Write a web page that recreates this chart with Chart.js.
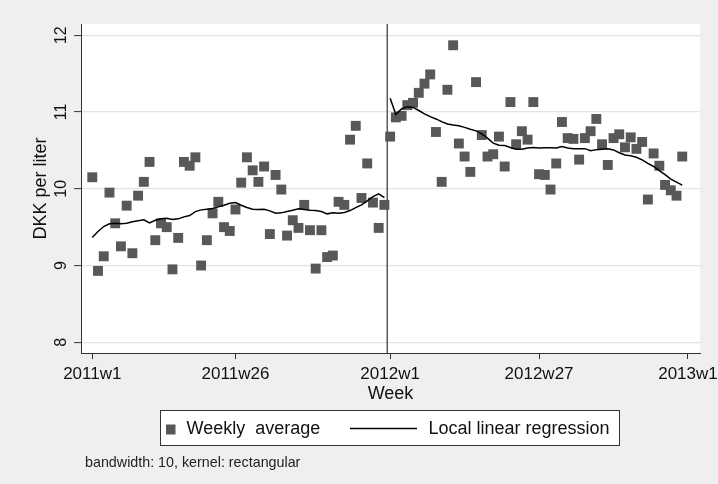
<!DOCTYPE html>
<html><head><meta charset="utf-8">
<script src="https://cdn.jsdelivr.net/npm/chart.js@4.4.0/dist/chart.umd.min.js"></script>
<style>html,body{margin:0;padding:0;background:#efefef;}canvas{display:block}</style>
</head><body>
<canvas id="c" width="718" height="484"></canvas>
<script>
// Week index: 0 = 2011w1 ... 103 = 2012w52
const weekIndex = Array.from({length: 104}, (_, i) => i);
const weeklyAverage = [
  10.15, 8.93, 9.12, 9.95, 9.55, 9.25, 9.78, 9.16, 9.91, 10.09,
  10.35, 9.33, 9.55, 9.50, 8.95, 9.36, 10.35, 10.30, 10.41, 9.00,
  9.33, 9.68, 9.83, 9.50, 9.45, 9.73, 10.08, 10.41, 10.24, 10.09,
  10.29, 9.41, 10.18, 9.99, 9.39, 9.59, 9.49, 9.79, 9.46, 8.96,
  9.46, 9.11, 9.13, 9.83, 9.79, 10.64, 10.82, 9.88, 10.33, 9.82,
  9.49, 9.79,
  10.68, 10.93, 10.95, 11.09, 11.12, 11.25, 11.37, 11.49, 10.74, 10.09,
  11.29, 11.87, 10.59, 10.42, 10.22, 11.39, 10.70, 10.42, 10.45, 10.68,
  10.29, 11.13, 10.58, 10.75, 10.64, 11.13, 10.19, 10.18, 9.99, 10.33,
  10.87, 10.66, 10.65, 10.38, 10.66, 10.75, 10.91, 10.58, 10.31, 10.66,
  10.71, 10.54, 10.67, 10.52, 10.61, 9.86, 10.46, 10.30, 10.05, 9.98,
  9.91, 10.42
];
const fit2011 = [
  9.365, 9.443, 9.508, 9.543, 9.552, 9.543, 9.552, 9.569, 9.582, 9.595,
  9.556, 9.59, 9.61, 9.617, 9.60, 9.608, 9.634, 9.651, 9.703, 9.725,
  9.734, 9.742, 9.764, 9.786, 9.812, 9.82, 9.785, 9.755, 9.734, 9.73,
  9.734, 9.712, 9.682, 9.686, 9.703, 9.72, 9.738, 9.73, 9.72, 9.716,
  9.703, 9.673, 9.686, 9.682, 9.69, 9.716, 9.755, 9.79, 9.842, 9.898,
  9.934, 9.885
];
const fit2012 = [
  11.18, 10.97, 11.04, 11.07, 11.06, 11.02, 10.975, 10.94, 10.91, 10.875,
  10.845, 10.83, 10.82, 10.80, 10.776, 10.754, 10.715, 10.66, 10.594, 10.568,
  10.563, 10.537, 10.516, 10.516, 10.53, 10.537, 10.53, 10.533, 10.533, 10.53,
  10.55, 10.53, 10.523, 10.523, 10.523, 10.497, 10.51, 10.516, 10.52, 10.506,
  10.47, 10.44, 10.43, 10.41, 10.376, 10.33, 10.29, 10.237, 10.185, 10.125,
  10.086, 10.047
];
const tickWeeks = [0, 25, 52, 78, 104];
const tickLabels = ['2011w1', '2011w26', '2012w1', '2012w27', '2013w1'];
const yTickValues = [8, 9, 10, 11, 12];
const breakWeek = 51.5;
const legendLabels = ['Weekly  average', 'Local linear regression'];
const noteText = 'bandwidth: 10, kernel: rectangular';
const yTitle = 'DKK per liter';
const xTitle = 'Week';

const FONT = '"Liberation Sans", Arial, sans-serif';

const pts = (xs, ys) => ys.map((v, i) => ({x: xs[i], y: v}));

const decor = {
  id: 'decor',
  beforeDraw(chart) {
    const {ctx, chartArea: a, width, height} = chart;
    ctx.save();
    ctx.fillStyle = '#efefef';
    ctx.fillRect(0, 0, width, height);
    ctx.fillStyle = '#ffffff';
    ctx.fillRect(a.left, a.top, a.right - a.left, a.bottom - a.top);
    ctx.restore();
  },
  beforeDatasetsDraw(chart) {
    const {ctx, chartArea: a, scales} = chart;
    const x = scales.x.getPixelForValue(breakWeek);
    ctx.save();
    ctx.strokeStyle = '#5a5a5a';
    ctx.lineWidth = 1.5;
    ctx.beginPath();
    ctx.moveTo(x, a.top);
    ctx.lineTo(x, a.bottom);
    ctx.stroke();
    ctx.restore();
  },
  afterDraw(chart) {
    const {ctx} = chart;
    ctx.save();
    // legend box
    ctx.fillStyle = '#ffffff';
    ctx.fillRect(160, 410.5, 459.5, 35);
    ctx.strokeStyle = '#333333';
    ctx.lineWidth = 1;
    ctx.strokeRect(160.5, 410.5, 459, 35);
    // marker
    ctx.fillStyle = '#585858';
    ctx.fillRect(166, 424.5, 9.5, 10);
    // line sample
    ctx.strokeStyle = '#000000';
    ctx.lineWidth = 1.5;
    ctx.beginPath();
    ctx.moveTo(350, 428.5);
    ctx.lineTo(417, 428.5);
    ctx.stroke();
    // texts
    ctx.fillStyle = '#111111';
    ctx.textBaseline = 'middle';
    ctx.textAlign = 'left';
    ctx.font = '18px ' + FONT;
    ctx.fillText(legendLabels[0], 186.5, 429);
    ctx.fillText(legendLabels[1], 428.5, 429);
    ctx.font = '14.3px ' + FONT;
    ctx.fillStyle = '#222222';
    ctx.fillText(noteText, 85, 463);
    ctx.restore();
  }
};

new Chart(document.getElementById('c'), {
  data: {
    datasets: [
      {type: 'line', data: pts(weekIndex.slice(0, 52), fit2011), borderColor: '#000000', borderWidth: 1.5,
       pointRadius: 0, tension: 0, fill: false},
      {type: 'line', data: pts(weekIndex.slice(52), fit2012), borderColor: '#000000', borderWidth: 1.5,
       pointRadius: 0, tension: 0, fill: false},
      {type: 'scatter', data: pts(weekIndex, weeklyAverage), pointStyle: 'rect', pointRadius: 7,
       backgroundColor: '#585858', borderWidth: 0, borderColor: 'rgba(0,0,0,0)'}
    ]
  },
  options: {
    responsive: false,
    animation: false,
    devicePixelRatio: 1,
    layout: {padding: {left: 0, right: 18, top: 24, bottom: 79}},
    plugins: {legend: {display: false}, tooltip: {enabled: false}},
    scales: {
      x: {
        type: 'linear', min: -1.97, max: 106.1,
        afterBuildTicks: s => { s.ticks = tickWeeks.map(v => ({value: v})); },
        afterFit: s => { s.height = 52; s.paddingLeft = 0; s.paddingRight = 0; },
        ticks: {
          callback: (v) => tickLabels[tickWeeks.indexOf(v)],
          font: {family: FONT, size: 17}, color: '#111', padding: 5, maxRotation: 0, autoSkip: false
        },
        grid: {drawOnChartArea: false, drawTicks: true, tickLength: 6, tickColor: '#333', tickWidth: 1},
        border: {display: true, color: '#333', width: 1},
        title: {display: true, text: xTitle, font: {family: FONT, size: 18}, color: '#111', padding: 0}
      },
      y: {
        type: 'linear', min: 7.86, max: 12.147,
        afterBuildTicks: s => { s.ticks = yTickValues.map(v => ({value: v})); },
        afterFit: s => { s.width = 81; s.paddingTop = 0; s.paddingBottom = 0; },
        ticks: {
          font: {family: FONT, size: 16}, color: '#111', padding: 4,
          minRotation: 90, maxRotation: 90, crossAlign: 'center'
        },
        grid: {color: '#e4e4e4', lineWidth: 1.2, tickLength: 7, tickColor: '#333', tickWidth: 1},
        border: {display: true, color: '#333', width: 1},
        title: {display: true, text: yTitle, font: {family: FONT, size: 18}, color: '#111',
                padding: {top: 30, bottom: 0}}
      }
    }
  },
  plugins: [decor]
});
</script>
</body></html>
